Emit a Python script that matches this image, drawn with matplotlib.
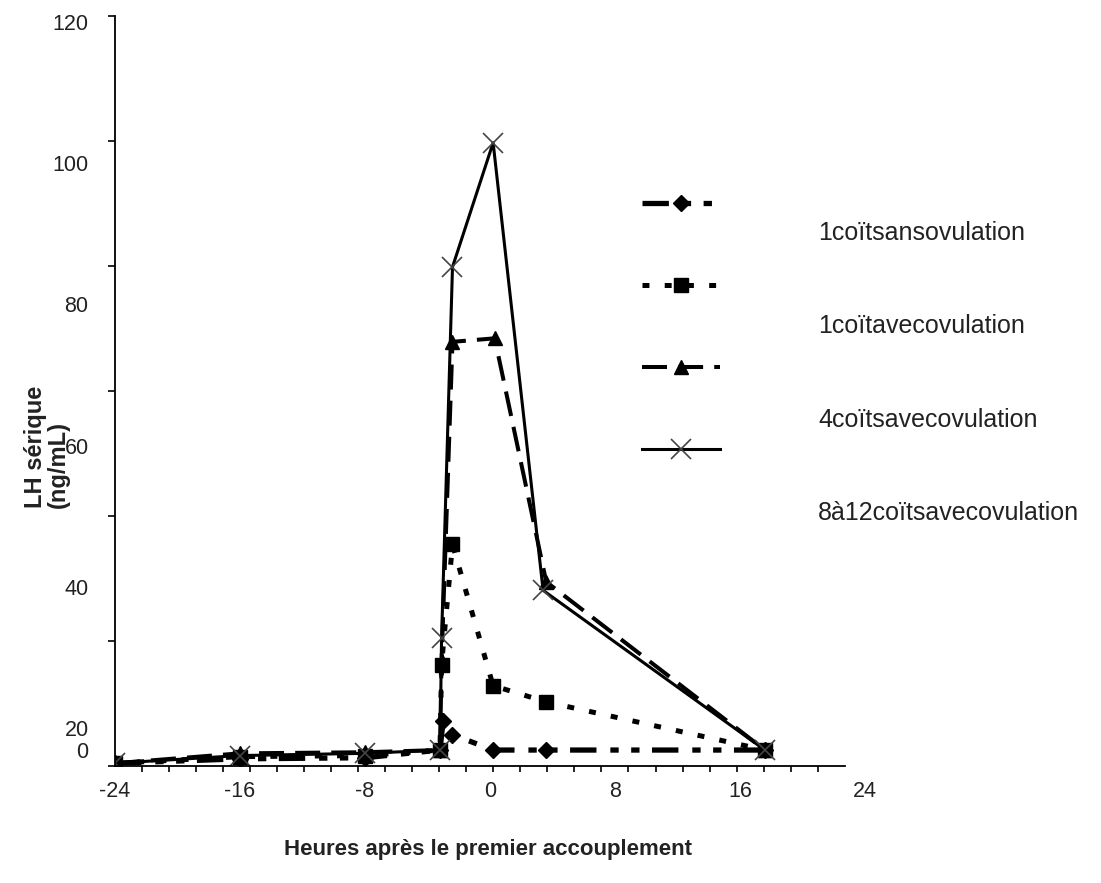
import matplotlib.pyplot as plt
import numpy as np
from matplotlib.ticker import FixedLocator

plt.rcParams['font.family'] = ['Liberation Sans', 'DejaVu Sans']
plt.rcParams['axes.unicode_minus'] = False
plt.rcParams['lines.scale_dashes'] = False

# hours after first mating / serum LH (ng/mL)
hours_sans = [-24, -16, -8, -3.2, -3.0, -2.4, 0.2, 3.6, 17.6]
lh_sans = [-12, -8, -7, 0, 21, 14, 0, 0, 0]

hours_1coit = [-24, -16, -8, -3.2, -3.1, -2.4, 0.2, 3.6, 17.6]
lh_1coit = [-12, -6, -5, 0, 29, 46, 26, 23.7, 0]

hours_4coits = [-24, -16, -8, -3.2, -3.1, -2.4, 0.3, 3.6, 17.6]
lh_4coits = [-12, -3, -2, 0, 29.5, 74.7, 75.2, 40.7, 0]

hours_8a12 = [-24, -16, -8, -3.2, -3.1, -2.4, 0.2, 3.4, 17.6]
lh_8a12 = [-12, -5, -3, 0, 32.7, 85.3, 102.9, 39.5, 0]

labels = ['1coïtsansovulation', '1coïtavecovulation',
          '4coïtsavecovulation', '8à12coïtsavecovulation']

x_ticks = [-24, -16, -8, 0, 8, 16, 24]
y_ticks = [0, 20, 40, 60, 80, 100, 120]


# the original y axis is squeezed between 0 and 20
def lh_forward(v):
    v = np.asarray(v, dtype=float)
    return np.where(v < 20, v * 1.1, 22 + (v - 20) * 7.06)


def lh_inverse(u):
    u = np.asarray(u, dtype=float)
    return np.where(u < 22, u / 1.1, 20 + (u - 22) / 7.06)


fig = plt.figure(figsize=(11.01, 8.83), dpi=100)
ax = fig.add_axes([115 / 1101, 117 / 883, 750 / 1101, 750 / 883])
ax.set_yscale('function', functions=(lh_forward, lh_inverse))

l1, = ax.plot(hours_sans, lh_sans, color='black', lw=3.8,
              ls=(0, (19, 10, 6, 9, 6, 9)), marker='D', ms=8)
l2, = ax.plot(hours_1coit, lh_1coit, color='black', lw=3.6,
              ls=(0, (5, 11)), marker='s', ms=10)
l3, = ax.plot(hours_4coits, lh_4coits, color='black', lw=2.9,
              ls=(0, (18, 8)), marker='^', ms=10)
l4, = ax.plot(hours_8a12, lh_8a12, color='black', lw=2.2, ls='-',
              marker='x', ms=15, mew=1.2, mec='#444444')

ymin, ymax = -14.5, 120.85
xmin, xmax, xend = -24, 24, 22.7
ax.set_xlim(xmin, xmax)
ax.set_ylim(ymin, ymax)

for s in ['top', 'right']:
    ax.spines[s].set_visible(False)
ax.spines['bottom'].set_bounds(xmin, xend)
ax.spines['left'].set_linewidth(1.3)
ax.spines['bottom'].set_linewidth(1.3)

ax.xaxis.set_major_locator(FixedLocator(x_ticks))
ax.set_xticklabels([str(t) for t in x_ticks])
ax.xaxis.set_minor_locator(FixedLocator(np.linspace(xmin, xend, 28)[:-1]))
ax.yaxis.set_major_locator(FixedLocator(y_ticks))
ax.set_yticklabels([str(t) for t in y_ticks])
ax.yaxis.set_minor_locator(FixedLocator(
    lh_inverse(np.linspace(lh_forward(ymin), lh_forward(ymax), 7))))

ax.tick_params(which='major', length=0, labelsize=15.5, colors='#222222')
ax.tick_params(axis='x', which='major', pad=11)
ax.tick_params(axis='y', which='major', pad=19)
ax.tick_params(which='minor', direction='out', width=1.2)
ax.tick_params(axis='x', which='minor', length=4)
ax.tick_params(axis='y', which='minor', length=5)

ax.set_xlabel('Heures après le premier accouplement', fontsize=16,
              fontweight='bold', color='#222222')
ax.xaxis.set_label_coords(0.497, -0.097)
ax.set_ylabel('LH sérique\n(ng/mL)', fontsize=17, fontweight='bold',
              color='#222222', multialignment='left', linespacing=1.0)
ax.yaxis.set_label_coords(-0.06, 0.425)

leg = ax.legend([l1, l2, l3, l4], [''] * 4, loc='upper left',
                bbox_to_anchor=(642 / 1101, 1 - 196 / 883),
                bbox_transform=fig.transFigure, frameon=False,
                fontsize=14, handlelength=4.0, handletextpad=0,
                borderpad=0, borderaxespad=0, labelspacing=3.31, numpoints=1)

for i, lab in enumerate(labels):
    fig.text(818 / 1101, 1 - (233 + 93.3 * i) / 883, lab, fontsize=18,
             color='#222222', va='center', ha='left')

fig.savefig('out.png', dpi=100)
